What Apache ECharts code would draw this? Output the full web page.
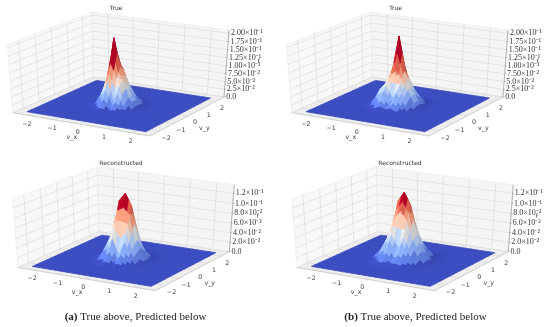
<!DOCTYPE html>
<html><head><meta charset="utf-8">
<style>html,body{margin:0;padding:0;background:#fff}#c{width:550px;height:327px;filter:blur(0.35px)}</style>
<script src="https://cdn.jsdelivr.net/npm/echarts@6/dist/echarts.min.js"></script></head>
<body><div id="c"></div>
<script>
// grid nodes of the surface (same for v_x and v_y)
const gridV = [-2.3,-2.07,-1.84,-1.61,-1.38,-1.15,-0.92,-0.69,-0.46,-0.23,0,0.23,0.46,0.69,0.92,1.15,1.38,1.61,1.84,2.07,2.3];
const coreStart = 5; // node index of the first value in the core tables; outside them f reads 0
// f values in thousandths; rows run along v_y, columns along v_x
const trueA = [
[0,0,0,0,1,1,1,0,0,0,0],
[0,0,1,3,6,2,6,2,1,0,0],
[0,1,3,14,32,8,28,8,2,0,0],
[0,1,8,40,84,34,76,24,5,1,0],
[0,2,12,58,135,92,90,34,8,1,0],
[0,3,16,82,205,122,74,38,9,1,0],
[0,2,12,60,128,110,60,28,7,1,0],
[0,1,7,30,66,54,38,14,4,0,0],
[0,1,3,10,24,18,12,5,1,0,0],
[0,0,1,3,6,5,3,1,0,0,0],
[0,0,0,0,1,1,0,0,0,0,0]];
const reconA = [
[0,0,0,0,1,1,1,0,0,0,0],
[0,0,1,3,6,2,6,2,1,0,0],
[0,1,4,14,24,7,22,10,3,0,0],
[0,2,10,34,50,20,46,26,6,1,0],
[0,3,14,44,84,82,80,36,10,2,0],
[0,3,16,54,118,134,112,46,12,2,0],
[0,3,14,42,85,100,80,36,9,2,0],
[0,2,8,26,42,38,36,21,6,1,0],
[0,1,4,11,18,15,16,8,2,0,0],
[0,0,1,3,5,4,4,2,1,0,0],
[0,0,0,0,1,1,1,0,0,0,0]];
const trueB = [
[0,0,0,1,2,2,2,1,0,0,0],
[0,0,2,6,12,5,11,5,2,0,0],
[0,1,8,26,44,16,42,20,5,1,0],
[0,3,20,56,70,38,66,42,11,2,0],
[1,5,28,60,88,118,90,56,18,3,0],
[1,6,32,68,115,213,120,62,22,4,0],
[1,5,24,54,85,120,84,50,16,3,0],
[0,3,14,38,54,60,50,32,9,2,0],
[0,1,6,18,28,26,24,12,3,1,0],
[0,0,2,5,8,8,6,3,1,0,0],
[0,0,0,1,1,1,1,0,0,0,0]];
const reconB = [
[0,0,1,2,3,3,3,2,1,0,0],
[0,1,4,10,13,7,13,9,4,1,0],
[1,3,11,24,34,16,33,21,9,2,0],
[1,6,19,40,58,36,56,35,15,4,1],
[2,8,25,52,88,104,86,48,20,6,1],
[2,9,28,62,118,136,114,56,23,7,1],
[2,8,24,50,88,104,84,46,19,5,1],
[1,5,17,35,52,48,50,32,13,3,1],
[1,3,9,20,28,25,26,18,7,2,0],
[0,1,3,8,11,10,10,7,3,1,0],
[0,0,1,1,2,2,2,1,1,0,0]];
// axis ticks
const xyTicks = [-2,-1,0,1,2];
const xyLabels = ['\u22122','\u22121','0','1','2'];
const zTicksTrue = [0,0.025,0.05,0.075,0.1,0.125,0.15,0.175,0.2];
const zLabelsTrue = ['0.0','2.5×10⁻²','5.0×10⁻²','7.50×10⁻²','1.00×10⁻¹','1.25×10⁻¹','1.50×10⁻¹','1.75×10⁻¹','2.00×10⁻¹'];
const zTicksRecon = [0,0.02,0.04,0.06,0.08,0.1,0.12];
const zLabelsRecon = ['0.0','2.0×10⁻²','4.0×10⁻²','6.0×10⁻²','8.0×10⁻²','1.0×10⁻¹','1.2×10⁻¹'];
// coolwarm colour stops
const coolwarm = [[59,76,192],[98,130,234],[141,176,254],[184,208,249],[221,221,221],[245,196,173],[244,154,123],[222,96,77],[180,4,38]];

// panel layout
const panels = [
  {title:'True', core:trueA, zLim:0.2205, zTicks:zTicksTrue, zLabels:zLabelsTrue, dx:0, dy:0, titleX:116, titleY:5, fdx:32, boost:1.4},
  {title:'Reconstructed', core:reconA, zLim:0.144, zTicks:zTicksRecon, zLabels:zLabelsRecon, dx:5.3, dy:154.7, titleX:121, titleY:160, fdx:26, boost:1.12},
  {title:'True', core:trueB, zLim:0.2205, zTicks:zTicksTrue, zLabels:zLabelsTrue, dx:279, dy:0, titleX:395.5, titleY:5, fdx:32, boost:1.4},
  {title:'Reconstructed', core:reconB, zLim:0.144, zTicks:zTicksRecon, zLabels:zLabelsRecon, dx:284.3, dy:154.7, titleX:400, titleY:160, fdx:26, boost:1.06}
];
const L = 2.65, wallTop = 0.95, viewDist = 10, subdiv = 2, colourSteps = 8;
const nView=[0.433,-0.75,0.5], uView=[0.866,0.5,0], vView=[-0.25,0.433,0.866];
const dot=(a,b)=>a[0]*b[0]+a[1]*b[1]+a[2]*b[2];
function world(x,y,z,p){return [x/(2*L), y/(2*L), z/p.zLim-0.5];}
function depth(w){return viewDist-dot(w,nView);}
function proj(x,y,z,p){const w=world(x,y,z,p),d=depth(w);return [dot(w,uView)/d,dot(w,vView)/d];}
function colorAt(t){
  t=Math.max(0,Math.min(1,t))*(coolwarm.length-1);
  const i=Math.min(Math.floor(t),coolwarm.length-2),f=t-i;
  return coolwarm[i].map((c,k)=>c+(coolwarm[i+1][k]-c)*f);
}
function zNode(core,ix,iy){
  const r=core[iy-coreStart];
  if(!r) return 0;
  const v=r[ix-coreStart];
  return v===undefined?0:v/1000;
}
const grids=[],xAxes=[],yAxes=[],series=[];
panels.forEach((p,pi)=>{
  const uMin=-0.07,uMax=0.08,vMin=-0.085,vMax=0.08,sx=1585,sy=823,ax=120+p.dx,by=70+p.dy;
  grids.push({left:ax+uMin*sx,width:(uMax-uMin)*sx,top:by-vMax*sy,height:(vMax-vMin)*sy});
  xAxes.push({type:'value',gridIndex:pi,min:uMin,max:uMax,show:false});
  yAxes.push({type:'value',gridIndex:pi,min:vMin,max:vMax,show:false});
  let zMax=0;
  p.core.forEach(r=>r.forEach(v=>{zMax=Math.max(zMax,v/1000);}));
  const T=p.zLim*wallTop;
  // walls, grid lines, ticks and labels
  series.push({type:'custom',xAxisIndex:pi,yAxisIndex:pi,coordinateSystem:'cartesian2d',silent:true,animation:false,clip:false,z:1,
    data:[[0]],
    renderItem(params,api){
      const C=(x,y,z)=>api.coord(proj(x,y,z,p));
      const kids=[];
      const poly=(pts,fill)=>kids.push({type:'polygon',shape:{points:pts},style:{fill,stroke:'#e4e4e4',lineWidth:0.5}});
      const line=(a,b,col,w)=>kids.push({type:'line',shape:{x1:a[0],y1:a[1],x2:b[0],y2:b[1]},style:{stroke:col,lineWidth:w||0.6}});
      const text=(pt,s,o)=>kids.push({type:'text',x:pt[0],y:pt[1],style:Object.assign({text:s,fill:'#3c3c3c',align:'center',verticalAlign:'middle',fontFamily:'DejaVu Sans',fontSize:6.3},o||{})});
      poly([C(-L,-L,0),C(L,-L,0),C(L,L,0),C(-L,L,0)],'#eeeeee');
      poly([C(-L,-L,0),C(-L,L,0),C(-L,L,T),C(-L,-L,T)],'#f8f8f8');
      poly([C(-L,L,0),C(L,L,0),C(L,L,T),C(-L,L,T)],'#f5f5f5');
      const gc='#d9d9d9';
      xyTicks.forEach(t=>{
        line(C(t,-L,0),C(t,L,0),gc); line(C(t,L,0),C(t,L,T),gc);
        line(C(-L,t,0),C(L,t,0),gc); line(C(-L,t,0),C(-L,t,T),gc);
      });
      p.zTicks.forEach((z,i)=>{
        line(C(-L,-L,z),C(-L,L,z),gc); line(C(-L,L,z),C(L,L,z),gc);
        line(C(L,L,z),C(L,L,z).map((v,k)=>v+(k?0:1.5)),'#777',0.5);
        const q=C(L,L,z);
        text([q[0]+2.2,q[1]],p.zLabels[i],{align:'left',fontFamily:'Liberation Serif',fontSize:8,fill:'#333'});
      });
      line(C(L,L,0),C(L,L,T),'#888',0.6);
      line(C(-L,-L,0),C(L,-L,0),'#bbb',0.6);
      line(C(L,-L,0),C(L,L,0),'#bbb',0.6);
      xyTicks.forEach((t,i)=>{
        const a=C(t,-L,0); text([a[0]-2,a[1]+8.5],xyLabels[i]);
        const b=C(L,t,0); text([b[0]+6.5,b[1]+7],xyLabels[i]);
      });
      const xl=C(0,-L,0); text([xl[0]-8,xl[1]+13.5],'v_x');
      const yl=C(L,0,0); text([yl[0]+16,yl[1]+12.5],'v_y');
      const fl=C(L,L,p.zLim*0.51); text([fl[0]+p.fdx,fl[1]],'f',{fontSize:6});
      return {type:'group',children:kids};
    }});
  // surface cells, far ones first
  const cells=[];
  for(let iy=0;iy<gridV.length-1;iy++)for(let ix=0;ix<gridV.length-1;ix++){
    const mx=(gridV[ix]+gridV[ix+1])/2,my=(gridV[iy]+gridV[iy+1])/2;
    const zs=[zNode(p.core,ix,iy),zNode(p.core,ix+1,iy),zNode(p.core,ix+1,iy+1),zNode(p.core,ix,iy+1)];
    const mz=(zs[0]+zs[1]+zs[2]+zs[3])/4;
    cells.push({d:depth(world(mx,my,mz,p)),v:[ix,iy]});
  }
  cells.sort((a,b)=>b.d-a.d);
  series.push({type:'custom',xAxisIndex:pi,yAxisIndex:pi,coordinateSystem:'cartesian2d',silent:true,animation:false,clip:false,z:2,
    progressive:0,data:cells.map(c=>c.v),
    renderItem(params,api){
      const ix=api.value(0),iy=api.value(1);
      const x0=gridV[ix],x1=gridV[ix+1],y0=gridV[iy],y1=gridV[iy+1];
      const z00=zNode(p.core,ix,iy),z10=zNode(p.core,ix+1,iy),z11=zNode(p.core,ix+1,iy+1),z01=zNode(p.core,ix,iy+1);
      const flat=Math.max(z00,z10,z11,z01)===0;
      const N=flat?1:subdiv;
      const node=(a,b)=>{
        const s=a/N,t=b/N;
        const x=x0+(x1-x0)*s,y=y0+(y1-y0)*t;
        const z=(z00*(1-s)+z10*s)*(1-t)+(z01*(1-s)+z11*s)*t;
        return [x,y,z];
      };
      const facets=[];
      for(let a=0;a<N;a++)for(let b=0;b<N;b++){
        const q=[node(a,b),node(a+1,b),node(a+1,b+1),node(a,b+1)];
        const W=q.map(v=>world(v[0],v[1],v[2],p));
        const mean=(q[0][2]+q[1][2]+q[2][2]+q[3][2])/4;
        const A=[W[2][0]-W[0][0],W[2][1]-W[0][1],W[2][2]-W[0][2]],B=[W[3][0]-W[1][0],W[3][1]-W[1][1],W[3][2]-W[1][2]];
        const n=[A[1]*B[2]-A[2]*B[1],A[2]*B[0]-A[0]*B[2],A[0]*B[1]-A[1]*B[0]];
        const nl=Math.hypot(n[0],n[1],n[2])||1;
        const sh=(-0.67*n[0]-0.67*n[1]+0.33*n[2])/nl;
        const f=1+0.12*(sh-0.33);
        const t=mean/zMax*p.boost;
        const rgb=colorAt(Math.round(t*colourSteps)/colourSteps);
        const col='rgb('+rgb.map(c=>Math.round(Math.min(255,c*f))).join(',')+')';
        const cw=[(W[0][0]+W[2][0])/2,(W[0][1]+W[2][1])/2,(W[0][2]+W[2][2])/2];
        facets.push({d:depth(cw),pts:q.map(v=>api.coord(proj(v[0],v[1],v[2],p))),col});
      }
      facets.sort((u,w)=>w.d-u.d);
      return {type:'group',children:facets.map(o=>({type:'polygon',shape:{points:o.pts},style:{fill:o.col,stroke:o.col,lineWidth:0.8}}))};
    }});
});
const chart=echarts.init(document.getElementById('c'),null,{renderer:'canvas'});
const capRich={b:{fontFamily:'Liberation Serif',fontSize:11,fontWeight:'bold',color:'#222'},n:{fontFamily:'Liberation Serif',fontSize:11,fontWeight:'normal',color:'#222'}};
chart.setOption({
  animation:false,
  backgroundColor:'#fff',
  title:panels.map(p=>({text:p.title,left:p.titleX,top:p.titleY,textAlign:'center',padding:0,textStyle:{fontFamily:'DejaVu Sans',fontSize:6,fontWeight:'normal',color:'#333'}})).concat([
    {text:'{b|(a)}{n| True above, Predicted below}',left:135.5,top:312,textAlign:'center',padding:0,textStyle:{rich:capRich,fontWeight:'normal'}},
    {text:'{b|(b)}{n| True above, Predicted below}',left:415.5,top:312,textAlign:'center',padding:0,textStyle:{rich:capRich,fontWeight:'normal'}}
  ]),
  grid:grids,xAxis:xAxes,yAxis:yAxes,series
});
</script></body></html>
